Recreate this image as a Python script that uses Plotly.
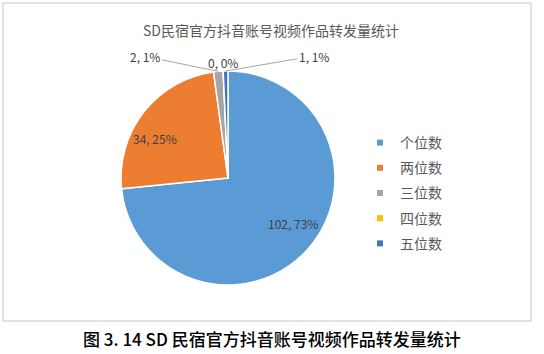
import math
import plotly.graph_objects as go

categories = ["个位数", "两位数", "三位数", "四位数", "五位数"]
values = [102, 34, 2, 0, 1]
pct_labels = [73, 25, 1, 0, 1]
colors = ["#5B9BD5", "#ED7D31", "#A5A5A5", "#FFC000", "#4472C4"]
title_text = "SD民宿官方抖音账号视频作品转发量统计"
caption_text = "图 3. 14 SD 民宿官方抖音账号视频作品转发量统计"

W, H = 544, 354
cx, cy, r = 228, 178, 107
FONT = "Noto Sans CJK SC"
LABEL_FONT = dict(family=FONT, size=12, color="#404040")

labels_text = [f"{v}, {p}%" for v, p in zip(values, pct_labels)]

fig = go.Figure()
fig.add_trace(go.Pie(
    labels=categories,
    values=values,
    textinfo="none",
    marker=dict(colors=colors, line=dict(color="white", width=1.5)),
    sort=False,
    direction="clockwise",
    rotation=0,
    showlegend=False,
    domain=dict(x=[(cx - r) / W, (cx + r) / W], y=[1 - (cy + r) / H, 1 - (cy - r) / H]),
))

# legend entries (one per category, own group so they can be spaced)
for name, col in zip(categories, colors):
    fig.add_trace(go.Scatter(
        x=[None], y=[None], mode="markers", name=name, legendgroup=name,
        marker=dict(symbol="square", size=6, color=col),
        showlegend=True,
    ))

# data labels, positioned from slice angles computed from the data
total = sum(values)
cum = 0
inside_shift = {0: (5, 8), 1: (-10, -10)}
outside_offsets = {2: (-73, -15), 4: (88, -15)}
for i, v in enumerate(values):
    mid = (cum + v / 2) / total * 2 * math.pi
    cum += v
    if v >= 10:
        rr = 0.75 * r
        px = cx + rr * math.sin(mid)
        py = cy - rr * math.cos(mid)
        sx, sy = inside_shift[i]
        fig.add_annotation(x=px / W, y=1 - py / H, xref="paper", yref="paper",
                           text=labels_text[i], showarrow=False,
                           xanchor="center", yanchor="middle",
                           xshift=sx, yshift=sy, font=LABEL_FONT)
        continue
    px = cx + r * math.sin(mid)
    py = cy - r * math.cos(mid)
    if v == 0:
        fig.add_annotation(x=px / W, y=1 - py / H, xref="paper", yref="paper",
                           text=labels_text[i], showarrow=False,
                           xanchor="center", yanchor="middle", yshift=9,
                           font=LABEL_FONT)
    else:
        ax, ay = outside_offsets[i]
        fig.add_annotation(x=px / W, y=1 - py / H, xref="paper", yref="paper",
                           text=labels_text[i], showarrow=True, arrowhead=0,
                           arrowwidth=1, arrowcolor="#A6A6A6", ax=ax, ay=ay,
                           font=LABEL_FONT)

# outer frame
fig.add_shape(type="rect", xref="paper", yref="paper",
              x0=3 / W, x1=531 / W, y0=1 - 321 / H, y1=1 - 3 / H,
              line=dict(color="#D9D9D9", width=1.5), fillcolor="rgba(0,0,0,0)")

# chart title
fig.add_annotation(x=271 / W, y=1 - 30 / H, xref="paper", yref="paper",
                   text=title_text, showarrow=False,
                   xanchor="center", yanchor="middle",
                   font=dict(family=FONT, size=14, color="#595959"))
# caption
fig.add_annotation(x=272 / W, y=1 - 338 / H, xref="paper", yref="paper",
                   text=caption_text, showarrow=False,
                   xanchor="center", yanchor="middle",
                   font=dict(family=FONT, size=17, color="#000000", weight=500))

fig.update_layout(
    width=W, height=H,
    margin=dict(l=0, r=0, t=0, b=0),
    paper_bgcolor="white",
    plot_bgcolor="white",
    xaxis=dict(visible=False),
    yaxis=dict(visible=False),
    legend=dict(x=360 / W, y=1 - 127 / H, xanchor="left", yanchor="top",
                font=dict(family=FONT, size=14, color="#595959"),
                itemwidth=30, tracegroupgap=4, traceorder="grouped",
                bgcolor="rgba(0,0,0,0)"),
)

fig.write_html("out.html")
